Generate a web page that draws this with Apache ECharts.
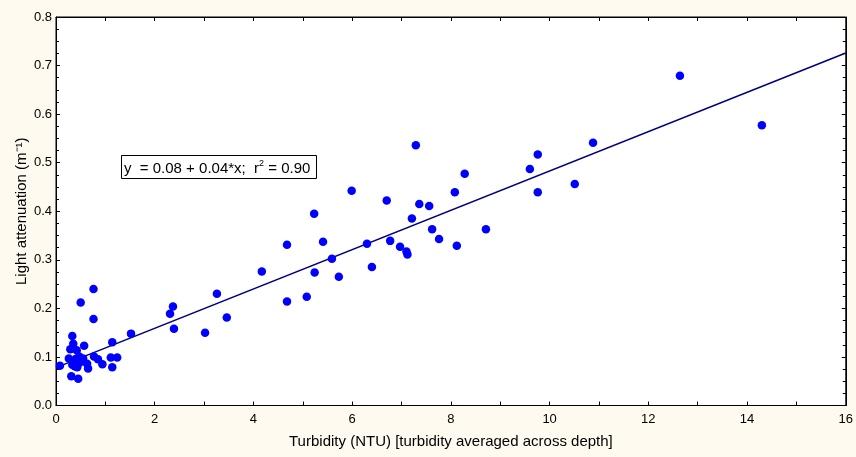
<!DOCTYPE html>
<html>
<head>
<meta charset="utf-8">
<script src="https://cdn.jsdelivr.net/npm/echarts@6/dist/echarts.min.js"></script>
<style>
html,body{margin:0;padding:0;background:#FFFAF0;}
#c{width:856px;height:457px;}
</style>
</head>
<body>
<div id="c"></div>
<script>
// Data
const turbidity = [
  0.08,0.26,0.33,0.35,0.29,0.42,0.57,0.50,0.76,0.76,0.77,0.85,0.94,1.11,1.24,1.14,1.14,0.31,0.45,0.47,
  0.55,0.50,0.36,0.63,0.65,0.38,0.43,0.46,0.40,0.33,
  1.52,2.31,2.37,2.39,3.02,3.26,3.46,4.17,4.68,4.68,5.08,5.23,5.24,5.41,5.59,5.73,5.99,6.30,6.40,6.70,
  6.77,6.97,7.10,7.12,7.21,7.29,7.36,7.56,7.62,7.76,8.08,8.12,8.28,8.71,9.60,9.76,9.76,10.51,10.88,12.64,14.30
];
const attenuation = [
  0.082,0.097,0.143,0.127,0.116,0.114,0.123,0.212,0.240,0.178,0.101,0.095,0.085,0.099,0.099,0.130,0.079,0.060,0.055,0.101,
  0.097,0.090,0.091,0.086,0.076,0.081,0.079,0.087,0.096,0.084,
  0.148,0.189,0.204,0.158,0.150,0.230,0.181,0.276,0.331,0.214,0.224,0.395,0.274,0.337,0.302,0.265,0.442,0.333,0.285,0.422,
  0.339,0.327,0.317,0.311,0.385,0.536,0.415,0.411,0.363,0.343,0.439,0.329,0.477,0.363,0.487,0.517,0.439,0.456,0.541,0.679,0.577
];
const fitIntercept = [0.078];
const fitSlope = [0.0405];
const fitRange = [0, 16];
const xTicks = [0, 16, 2];
const yTicks = [0, 0.8, 0.1];
const xTitle = 'Turbidity (NTU) [turbidity averaged across depth]';
const yTitle = 'Light attenuation (m\u207B\u00B9)';

const points = turbidity.map((x, i) => [x, attenuation[i]]);
const fitLine = fitRange.map(x => [x, fitIntercept[0] + fitSlope[0] * x]);

const font = 'Liberation Sans, Arial, sans-serif';
const chart = echarts.init(document.getElementById('c'), null, {renderer: 'canvas'});
const baseX = {
  type: 'value', min: xTicks[0], max: xTicks[1], interval: xTicks[2],
  axisLine: {show: true, onZero: false, lineStyle: {color: '#000', width: 1}},
  axisTick: {show: true, inside: true, length: 4, lineStyle: {color: '#000'}},
  minorTick: {show: true, splitNumber: 2, length: 4, lineStyle: {color: '#000'}},
  splitLine: {show: false}
};
const baseY = {
  type: 'value', min: yTicks[0], max: yTicks[1], interval: yTicks[2],
  axisLine: {show: true, onZero: false, lineStyle: {color: '#000', width: 1}},
  axisTick: {show: true, inside: true, length: 4, lineStyle: {color: '#000'}},
  minorTick: {show: true, splitNumber: 4, length: 3, lineStyle: {color: '#000'}},
  splitLine: {show: false}
};
chart.setOption({
  backgroundColor: '#FFFAF0',
  animation: false,
  title: {
    text: '{a|y  = 0.08 + 0.04*x;  r}{s|2}{a| = 0.90}',
    left: 121, top: 155,
    backgroundColor: '#fff', borderColor: '#000', borderWidth: 1,
    padding: [4, 6, 3, 3],
    textStyle: {
      fontWeight: 'normal',
      rich: {
        a: {fontFamily: font, fontSize: 15, fontWeight: 'normal', color: '#000', lineHeight: 19},
        s: {fontFamily: font, fontSize: 9, fontWeight: 'normal', color: '#000', verticalAlign: 'top', lineHeight: 12}
      }
    }
  },
  grid: {left: 56, right: 10, top: 17, bottom: 51.5, show: true, backgroundColor: '#fff', borderColor: '#000', borderWidth: 1},
  xAxis: [
    Object.assign({}, baseX, {
      position: 'bottom',
      axisLabel: {color: '#000', fontFamily: font, fontSize: 13, margin: 7},
      name: xTitle, nameLocation: 'middle', nameGap: 29, nameMoveOverlap: false,
      nameTextStyle: {color: '#000', fontFamily: font, fontSize: 15}
    }),
    Object.assign({}, baseX, {position: 'top', axisLabel: {show: false}})
  ],
  yAxis: [
    Object.assign({}, baseY, {
      position: 'left',
      axisLabel: {color: '#000', fontFamily: font, fontSize: 13, margin: 4, formatter: v => v.toFixed(1)},
      name: yTitle, nameLocation: 'middle', nameGap: 27, nameMoveOverlap: false,
      nameTextStyle: {color: '#000', fontFamily: font, fontSize: 15}
    }),
    Object.assign({}, baseY, {position: 'right', axisLabel: {show: false}})
  ],
  series: [
    {
      type: 'line', data: fitLine, showSymbol: false, symbol: 'none',
      lineStyle: {color: '#000080', width: 1.6}, z: 2
    },
    {
      type: 'scatter', data: points, symbol: 'circle', symbolSize: 8.5,
      itemStyle: {color: '#0000FF', opacity: 1}, z: 3
    }
  ]
});
</script>
</body>
</html>
